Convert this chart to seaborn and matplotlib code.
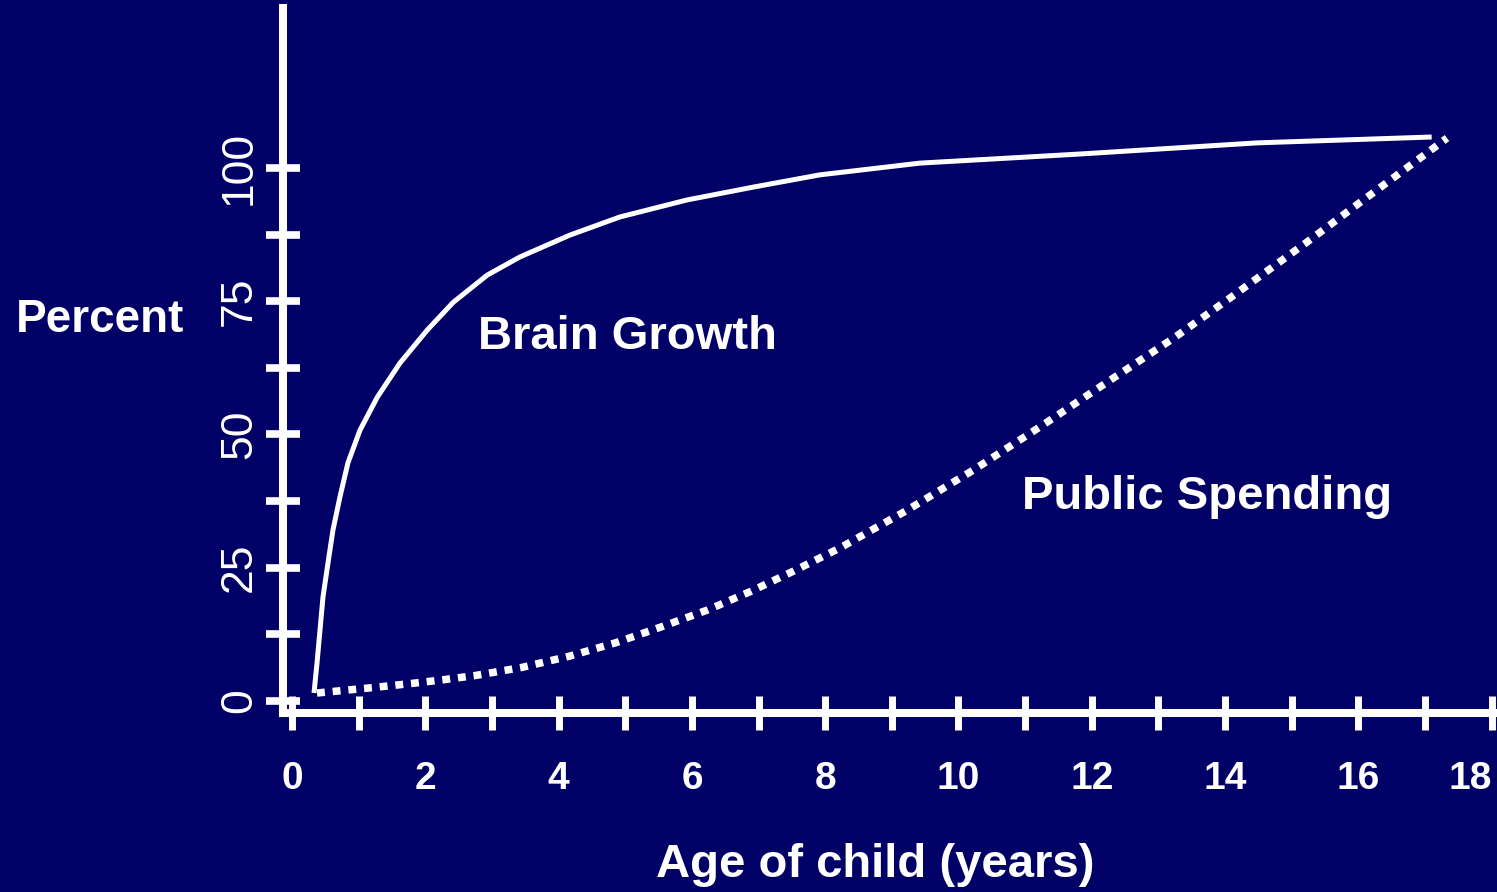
import numpy as np
import matplotlib
matplotlib.use("Agg")
import matplotlib.pyplot as plt
import matplotlib.transforms as mtransforms
import seaborn as sns

# === DATA ===
brain_age = [0.33, 0.375, 0.42, 0.465, 0.54, 0.615, 0.72, 0.84, 1.02, 1.28, 1.62,
             2.03, 2.42, 2.93, 3.42, 4.17, 4.92, 5.93, 6.92, 7.92, 9.42, 11.81,
             14.48, 17.10]
brain_pct = [1.5, 7.1, 13.3, 19.5, 25.9, 32.1, 38.3, 44.7, 50.8, 57.0, 63.4,
             69.6, 74.8, 79.9, 83.3, 87.4, 90.8, 94.0, 96.4, 98.7, 100.9, 102.6,
             104.7, 105.8]

spend_age = [0.375, 1.2, 1.8, 2.28, 2.76, 3.45, 4.16, 4.85, 5.54, 6.24, 6.89, 7.53,
             8.22, 9.23, 10.22, 11.22, 12.23, 13.22, 14.03, 15.23, 15.99, 16.77,
             17.33]
spend_pct = [1.5, 2.5, 3.3, 4.0, 4.8, 6.3, 8.4, 10.9, 13.9, 17.1, 20.6, 24.4,
             28.7, 35.8, 43.3, 51.4, 59.8, 68.0, 75.2, 86.1, 93.2, 100.4,
             105.6]

x_major = [0, 2, 4, 6, 8, 10, 12, 14, 16, 18]
x_minor = [1, 3, 5, 7, 9, 11, 13, 15, 17]
y_major = [0, 25, 50, 75, 100]
y_minor = [12.5, 37.5, 62.5, 87.5]

# === STYLE ===
BG = "#000066"
FG = "white"
sns.set_theme(style="white")
plt.rcParams["font.family"] = ["Liberation Sans", "DejaVu Sans"]

fig = plt.figure(figsize=(14.97, 8.92), dpi=100, facecolor=BG)
ax = fig.add_axes([283 / 1497, 1 - 713 / 892, 1 - 283 / 1497, (713 - 8) / 892])
ax.set_facecolor(BG)

sns.lineplot(x=brain_age, y=brain_pct, ax=ax, sort=False, estimator=None,
             color=FG, linewidth=3.6, solid_capstyle="butt")
sns.lineplot(x=spend_age, y=spend_pct, ax=ax, sort=False, estimator=None,
             color=FG, linewidth=5.4, dashes=False)
ax.lines[-1].set_linestyle((0, (1.05, 1.05)))
ax.lines[-1].set_dash_capstyle("butt")

ax.set_xlim(-0.135, 18.08)
ax.set_ylim(-2.25, 130)

for side in ["top", "right"]:
    ax.spines[side].set_visible(False)
for side in ["left", "bottom"]:
    ax.spines[side].set_color(FG)
    ax.spines[side].set_linewidth(5.8)

ax.set_xticks(x_major)
ax.set_xticks(x_minor, minor=True)
ax.set_xticklabels([str(v) for v in x_major], fontsize=28, fontweight="bold", color=FG)
ax.get_xticklabels()[-1].set_horizontalalignment("right")
ax.set_yticks(y_major)
ax.set_yticks(y_minor, minor=True)
ax.set_yticklabels([str(v) for v in y_major], fontsize=32, color=FG, rotation=90,
                   va="center")
# the y labels sit a little below their ticks in the original
shift = mtransforms.ScaledTranslation(0, -12 / 100, fig.dpi_scale_trans)
for lab in ax.get_yticklabels():
    lab.set_transform(lab.get_transform() + shift)

ax.tick_params(axis="x", which="both", direction="inout", length=25, width=5,
               color=FG, pad=22, bottom=True)
ax.tick_params(axis="y", which="both", direction="inout", length=25, width=5.5,
               color=FG, pad=4, left=True)

ax.set_xlabel("Age of child (years)", fontsize=34, fontweight="bold", color=FG)
ax.xaxis.set_label_coords(0.488, -0.185)
ax.set_ylabel("Percent", fontsize=33, fontweight="bold", color=FG, rotation=0,
              ha="center", va="center")
ax.yaxis.set_label_coords(-0.1507, 0.557)

ax.text(2.79, 68.3, "Brain Growth", fontsize=34, fontweight="bold", color=FG,
        ha="left", va="center")
ax.text(10.95, 38.3, "Public Spending", fontsize=34, fontweight="bold", color=FG,
        ha="left", va="center")

fig.savefig("out.png", dpi=100, facecolor=BG)
